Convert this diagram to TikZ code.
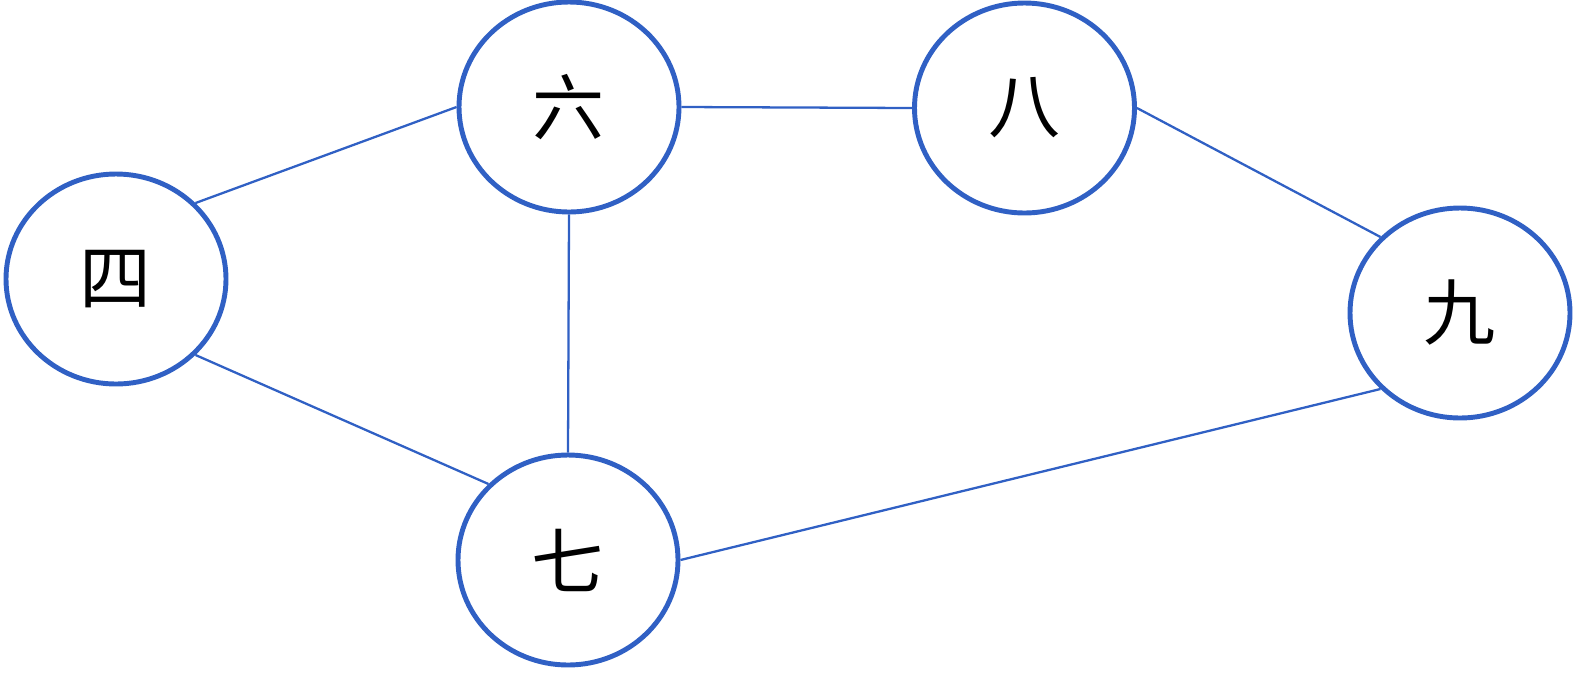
\documentclass[tikz,border=0pt]{standalone}
\usepackage{fontspec}
\newfontfamily\cjk{Noto Sans CJK SC}
\usetikzlibrary{shapes.geometric}
\definecolor{ringblue}{RGB}{48,96,196}

\tikzstyle{vertex}=[draw=ringblue,line width=2.8pt,ellipse,minimum width=4.4cm,minimum height=4.2cm,inner sep=0pt,font=\cjk\fontsize{41}{41}\selectfont]
\tikzstyle{edge} = [draw=ringblue,line width=1.3pt,-]

\begin{document}
\begin{tikzpicture}
    \useasboundingbox (0,0) rectangle (31.52,-13.44);
    % First we draw the vertices
    \foreach \pos/\name/\lbl in {{(2.32,-5.58)/si/四}, {(11.38,-2.14)/liu/六}, {(20.49,-2.16)/ba/八}, {(29.2,-6.26)/jiu/九}, {(11.36,-11.2)/qi/七}}
        \node[vertex] (\name) at \pos {\lbl};
    % Connect vertices with edges
    \foreach \source/\dest in {si.north east/liu.west, si.south east/qi.north west, liu.east/ba.west, liu.south/qi.north, ba.east/jiu.north west, qi.east/jiu.south west}
        \path[edge] (\source) -- (\dest);
\end{tikzpicture}
\end{document}
